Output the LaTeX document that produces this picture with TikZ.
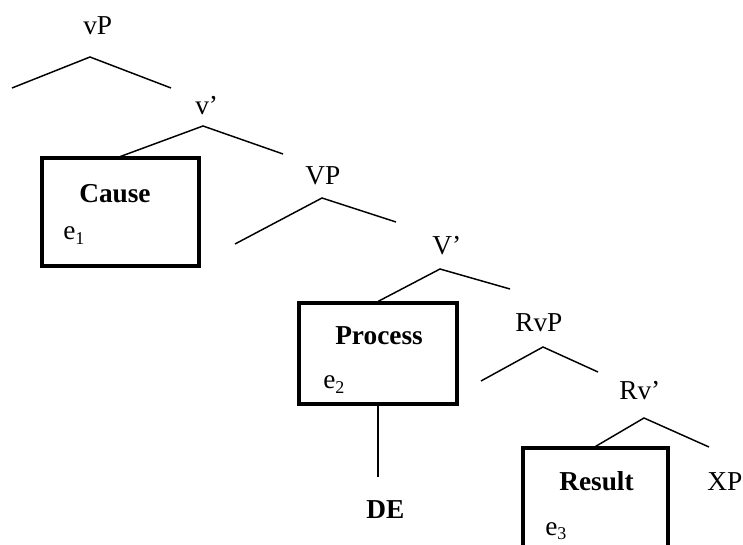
\documentclass[tikz,border=0pt]{standalone}
\usepackage{fontspec}
\setmainfont{Liberation Serif}
\usepackage{tikz}
\usetikzlibrary{positioning, calc}
\tikzstyle{branch} = [line width=1.1pt]
\tikzstyle{evbox} = [rectangle, draw=black, line width=2.3pt, inner sep=0pt]
\tikzstyle{cat} = [inner sep=0pt, anchor=base west, font=\fontsize{20.5}{24}\selectfont]
\tikzstyle{evlabel} = [cat, font=\fontsize{20.5}{24}\selectfont\bfseries]
\newcommand{\evsub}[1]{\raisebox{-3.5pt}{\fontsize{13.5}{14}\selectfont #1}}

\begin{document}
\begin{tikzpicture}[x=0.75pt, y=-0.75pt]
    \useasboundingbox (0,0) rectangle (743,545);
    \clip (0,0) rectangle (743,545);

    % Categorias
    \node (vP) [cat] at (83,35) {vP};
    \node (vbar) [cat] at (195,115) {v’};
    \node (VP) [cat] at (305,185) {VP};
    \node (Vbar) [cat] at (432,255) {V’};
    \node (RvP) [cat] at (515,332) {RvP};
    \node (Rvbar) [cat] at (619,400) {Rv’};
    \node (XP) [cat] at (707,490) {XP};

    % Cajas de eventos
    \node (cause) [evbox, minimum width=117.75pt, minimum height=81pt] at (120.5,212) {};
    \node (process) [evbox, minimum width=118.5pt, minimum height=75.75pt] at (378,353.5) {};
    \node (result) [evbox, minimum width=108.75pt, minimum height=97.5pt] at (595.5,513) {};

    \node (causetxt) [evlabel] at (79,203) {Cause};
    \node (e1) [cat] at (63,240) {e\evsub{1}};
    \node (processtxt) [evlabel] at (335,345) {Process};
    \node (e2) [cat] at (323,389) {e\evsub{2}};
    \node (resulttxt) [evlabel] at (559,490) {Result};
    \node (e3) [cat] at (545,535) {e\evsub{3}};
    \node (de) [evlabel] at (366,518) {DE};

    % Ramas
    \coordinate (vPtop) at (90,57);
    \coordinate (vPl) at (12,88);
    \coordinate (vPr) at (171,88);
    \coordinate (vbartop) at (203,126);
    \coordinate (vbarr) at (283,154);
    \coordinate (VPtop) at (322,198);
    \coordinate (VPl) at (235,244);
    \coordinate (VPr) at (396,222);
    \coordinate (Vbartop) at (440,269);
    \coordinate (Vbarr) at (510,289);
    \coordinate (RvPtop) at (543,347);
    \coordinate (RvPl) at (481,381);
    \coordinate (RvPr) at (598,372);
    \coordinate (Rvbartop) at (644,418);
    \coordinate (Rvbarr) at (709,447);
    \coordinate (deline) at (378,477);

    \draw [branch] (vPl) -- (vPtop) -- (vPr);
    \draw [branch] (cause.north) -- (vbartop) -- (vbarr);
    \draw [branch] (VPl) -- (VPtop) -- (VPr);
    \draw [branch] (process.north) -- (Vbartop) -- (Vbarr);
    \draw [branch] (RvPl) -- (RvPtop) -- (RvPr);
    \draw [branch] (result.north) -- (Rvbartop) -- (Rvbarr);
    \draw [branch] (process.south) -- (deline);
\end{tikzpicture}
\end{document}
